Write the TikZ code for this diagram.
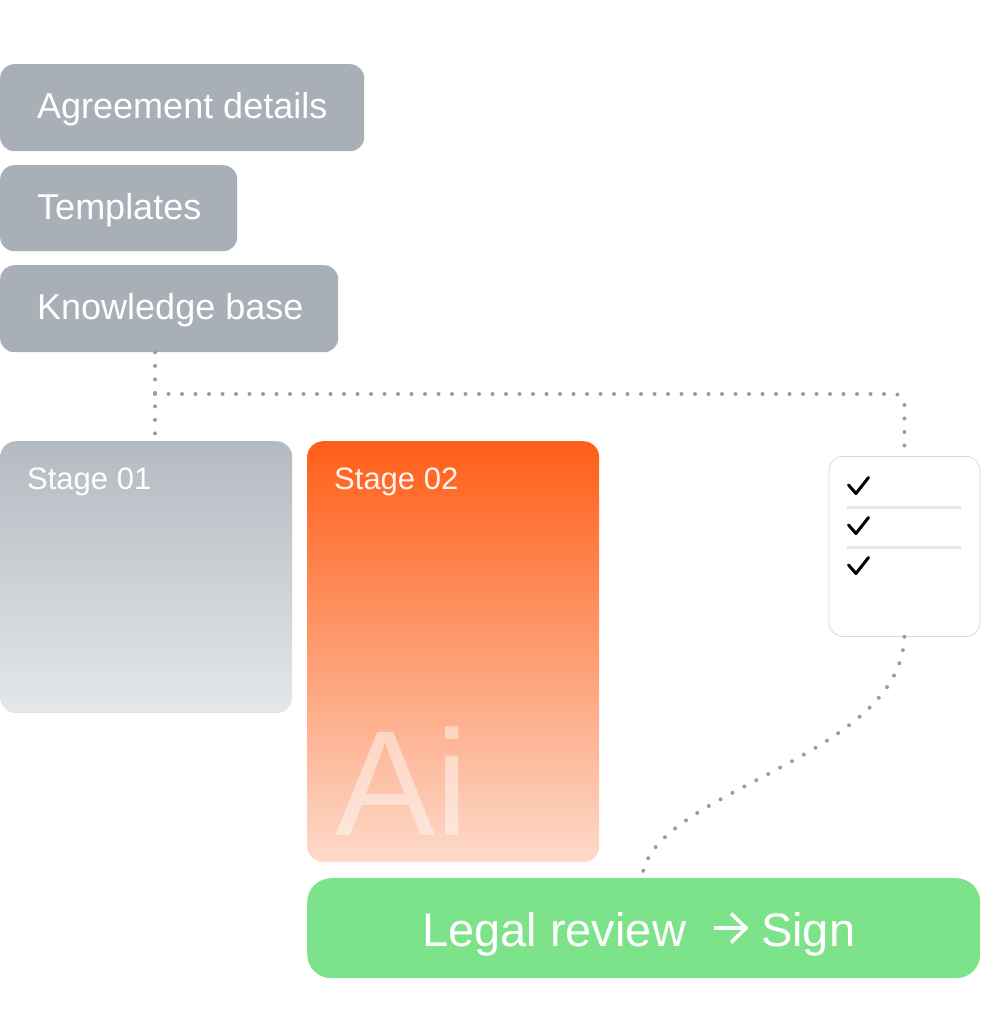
\documentclass[tikz,border=0pt]{standalone}
\usepackage{fontspec}
\setmainfont{Liberation Sans}
\definecolor{boxgray}{HTML}{A9AFB6}
\definecolor{sonetop}{HTML}{B4BAC1}
\definecolor{sonebot}{HTML}{E4E7EA}
\definecolor{stwotop}{HTML}{FF5E18}
\definecolor{stwobot}{HTML}{FDDACA}
\definecolor{signgreen}{HTML}{7DE38A}
\definecolor{dotgray}{HTML}{979DA6}
\definecolor{chkborder}{HTML}{D6D9DD}
\definecolor{linegray}{HTML}{E6E7E9}
\definecolor{stwotext}{HTML}{FFF3EC}
\begin{document}
\begin{tikzpicture}[x=1pt,y=-1pt,
  graybox/.style={fill=boxgray, rounded corners=14pt, anchor=north west, inner sep=0pt, minimum height=87pt},
  graylabel/.style={anchor=base west, inner sep=0pt, text=white, font=\fontsize{36}{36}\selectfont},
  stagebox/.style={rounded corners=16pt, anchor=north west, inner sep=0pt, minimum width=292pt},
  stagelabel/.style={anchor=base west, inner sep=0pt, font=\fontsize{31}{31}\selectfont},
  signlabel/.style={anchor=base west, inner sep=0pt, text=white, font=\fontsize{47}{47}\selectfont},
  dots/.style={draw=dotgray, line width=4pt, line cap=round, dash pattern=on 0pt off 13.5pt},
  checkmark/.style={draw=black, line width=3pt, line cap=round, line join=round},
  sepline/.style={draw=linegray, line width=3pt},
  signarrow/.style={draw=white, line width=3.6pt, line cap=butt, line join=miter}
]
\useasboundingbox (0,0) rectangle (980,1024);

% input boxes
\node[graybox, minimum width=364pt] (ad) at (0,64) {};
\node[graylabel] (adt) at (37,119) {Agreement details};
\node[graybox, minimum width=237pt, minimum height=86pt] (tp) at (0,165) {};
\node[graylabel] (tpt) at (37,219) {Templates};
\node[graybox, minimum width=338pt] (kb) at (0,265) {};
\node[graylabel] (kbt) at (37,319) {Knowledge base};

% stages
\node[stagebox, minimum height=272pt, top color=sonetop, bottom color=sonebot] (sone) at (0,441) {};
\node[stagelabel, text=white] (sonet) at (27,489) {Stage 01};
\node[stagebox, minimum height=421pt, top color=stwotop, bottom color=stwobot] (stwo) at (307,441) {};
\node[stagelabel, text=stwotext] (stwot) at (334,489) {Stage 02};
\node[anchor=base west, inner sep=0pt, text=white, text opacity=0.45, font=\fontsize{150}{150}\selectfont] (ai) at (335,835) {Ai};

% checklist
\node[draw=chkborder, line width=0.8pt, fill=white, rounded corners=14pt, anchor=north west, inner sep=0pt, minimum width=151pt, minimum height=180pt] (cl) at (828.5,456) {};
\foreach \dy in {0,40,80}{
  \draw[checkmark] (848.5,{485+\dy}) -- (856,{493.5+\dy}) -- (868.5,{477.5+\dy});
}
\draw[sepline] (847,507.5) -- (961,507.5);
\draw[sepline] (847,547.5) -- (961,547.5);

% sign box
\node[fill=signgreen, rounded corners=24pt, anchor=north west, inner sep=0pt, minimum width=673pt, minimum height=100pt] (lr) at (307,878) {};
\node[signlabel] (lrta) at (422,946) {Legal review};
\node[signlabel] (lrtb) at (761,946) {Sign};
\draw[signarrow] (714,928) -- (745,928);
\draw[signarrow] (731,913.5) -- (746,928) -- (731,942.5);

% connectors
\coordinate (j) at (155,394);
\coordinate (e) at (642,878);
\draw[dots] (j |- kb.south) -- (j |- sone.north);
\draw[dots, rounded corners=10pt] (j) -- (cl.north |- j) -- (cl.north);
\draw[dots] (cl.south) .. controls (900,760) and (650,790) .. (e);
\end{tikzpicture}
\end{document}
